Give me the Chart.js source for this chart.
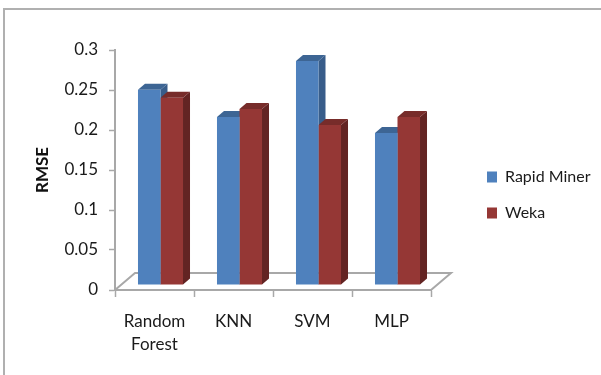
<!DOCTYPE html>
<html>
<head>
<meta charset="utf-8">
<title>RMSE</title>
<script src="https://cdn.jsdelivr.net/npm/chart.js@4"></script>
<style>
  html, body { margin: 0; padding: 0; background: #fff; }
  #wrap { width: 601px; height: 375px; position: relative; }
</style>
</head>
<body>
<div id="wrap"><canvas id="myChart" width="601" height="375"></canvas></div>
<script>
const categories = [['Random', 'Forest'], 'KNN', 'SVM', 'MLP'];
const rapidMiner = [0.244, 0.21, 0.28, 0.19];
const weka = [0.234, 0.22, 0.2, 0.21];
const yTicks = [0, 0.05, 0.1, 0.15, 0.2, 0.25, 0.3];

const fontName = 'Lato, Carlito, "Open Sans", sans-serif';
const textColor = '#1a1a1a';
const axisColor = '#a8a8a8';

// front, top and side colours of the fake 3d bars
const blue = { front: '#4f81bd', top: '#3d6594', side: '#385d8a' };
const red = { front: '#953735', top: '#772c2a', side: '#632423' };

// bars stand in the middle of the floor, floor goes 20/17 back
const barShift = { x: 6, y: -5 };
const barDepth = { x: 7, y: -6 };
const floorDepth = { x: 20, y: -17 };

const poly = (ctx, pts, color) => {
	ctx.fillStyle = color;
	ctx.beginPath();
	pts.forEach((p, i) => i ? ctx.lineTo(p[0], p[1]) : ctx.moveTo(p[0], p[1]));
	ctx.closePath();
	ctx.fill();
};

const fake3d = {
	id: 'fake3d',
	beforeDraw(chart) {
		// picture frame, only top and left show
		const ctx = chart.ctx;
		ctx.save();
		ctx.fillStyle = '#b0b0b0';
		ctx.fillRect(3, 8, 598, 2);
		ctx.fillRect(3, 8, 2, 367);
		ctx.restore();
	},
	beforeDatasetsDraw(chart) {
		const ctx = chart.ctx;
		const { left, right, bottom } = chart.chartArea;

		// floor outline
		ctx.save();
		ctx.strokeStyle = axisColor;
		ctx.lineWidth = 2;
		ctx.beginPath();
		ctx.moveTo(left, bottom);
		ctx.lineTo(left + floorDepth.x, bottom + floorDepth.y);
		ctx.lineTo(right + floorDepth.x, bottom + floorDepth.y);
		ctx.lineTo(right, bottom);
		ctx.stroke();
		ctx.restore();

		// everything of the bars is moved back onto the floor, restored in afterDatasetsDraw
		ctx.save();
		ctx.translate(barShift.x, barShift.y);

		[blue, red].forEach((colors, d) => {
			chart.getDatasetMeta(d).data.forEach(bar => {
				const x0 = bar.x - bar.width / 2;
				const x1 = bar.x + bar.width / 2;
				const dx = barDepth.x;
				const dy = barDepth.y;
				poly(ctx, [[x1, bar.y], [x1 + dx, bar.y + dy], [x1 + dx, bar.base + dy], [x1, bar.base]], colors.side);
				poly(ctx, [[x0, bar.y], [x0 + dx, bar.y + dy], [x1 + dx, bar.y + dy], [x1, bar.y]], colors.top);
			});
		});
	},
	afterDatasetsDraw(chart) {
		chart.ctx.restore();
	},
	afterLayout(chart) {
		// legend sits right of the plot, a bit above the middle
		const lg = chart.legend;
		const w = lg.width;
		const h = lg.height;
		lg.left = 467;
		lg.right = 467 + w;
		lg.top = 149;
		lg.bottom = 149 + h;
	}
};

const ctx = document.getElementById('myChart');

new Chart(ctx, {
	type: 'bar',
	data: {
		labels: categories,
		datasets: [
			{ label: 'Rapid Miner', data: rapidMiner, backgroundColor: blue.front, borderWidth: 0 },
			{ label: 'Weka', data: weka, backgroundColor: red.front, borderWidth: 0 }
		]
	},
	plugins: [fake3d],
	options: {
		responsive: false,
		animation: false,
		clip: false,
		categoryPercentage: 0.57,
		barPercentage: 1,
		layout: { padding: { left: 0, top: 50, right: 170, bottom: 0 } },
		plugins: {
			tooltip: { enabled: false },
			legend: {
				position: 'chartArea',
				align: 'start',
				labels: {
					boxWidth: 10,
					boxHeight: 11,
					padding: 20,
					color: textColor,
					font: { family: fontName, size: 16 }
				}
			}
		},
		scales: {
			x: {
				afterFit: s => { s.height = 85; },
				border: { color: axisColor, width: 2 },
				grid: { drawOnChartArea: false, color: axisColor, tickColor: axisColor, tickLength: 7, tickWidth: 1.5 },
				ticks: {
					color: textColor,
					padding: 13,
					maxRotation: 0,
					autoSkip: false,
					font: { family: fontName, size: 17, lineHeight: 1.35 }
				}
			},
			y: {
				min: 0,
				max: 0.3,
				afterFit: s => { s.width = 115; },
				afterBuildTicks: s => { s.ticks = yTicks.map(v => ({ value: v })); },
				border: { color: axisColor, width: 2 },
				grid: { drawOnChartArea: false, color: axisColor, tickColor: axisColor, tickLength: 6, tickWidth: 1.5 },
				title: {
					display: true,
					text: 'RMSE',
					color: '#111',
					padding: { top: 32, bottom: 0 },
					font: { family: fontName, size: 17, weight: 'bold' }
				},
				ticks: {
					color: textColor,
					padding: 11,
					callback: v => String(v),
					font: { family: fontName, size: 17 }
				}
			}
		}
	}
});
</script>
</body>
</html>
